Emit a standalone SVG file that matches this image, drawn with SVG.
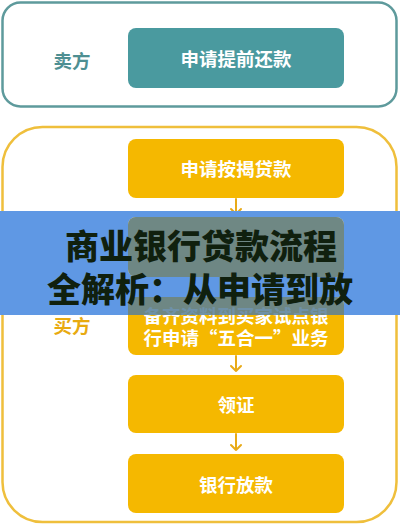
<svg xmlns="http://www.w3.org/2000/svg" width="400" height="526" viewBox="0 0 400 526">
<style>
.lbl{font-family:"Noto Sans CJK SC","Noto Sans",sans-serif;font-weight:700;font-size:18.5px;text-anchor:middle;dominant-baseline:central}
.nt{fill:#ffffff}
.yn{fill:#f5b800}
.arr{fill:none;stroke:#e8aa18;stroke-width:2;stroke-linecap:round;stroke-linejoin:round}
.ban{font-family:"Noto Sans CJK SC","Noto Sans",sans-serif;font-weight:900;font-size:34px;text-anchor:middle;dominant-baseline:central;fill:#10200e}
</style>
<defs>
<mask id="bm">
<rect x="0" y="0" width="400" height="526" fill="#fff"/>
<rect x="128" y="217" width="216" height="60" rx="8" fill="#000"/>
<rect x="128" y="297" width="216" height="58" rx="8" fill="#000"/>
</mask>
<clipPath id="bc"><rect x="0" y="211" width="400" height="104"/></clipPath>
</defs>
<rect width="400" height="526" fill="#ffffff"/>
<g id="seller-lane">
<rect x="2.5" y="2.5" width="394" height="104" rx="18" fill="none" stroke="#5e9a9c" stroke-width="2.5"/>
<text class="lbl" x="72" y="60" fill="#4e8f92">卖方</text>
</g>
<g id="buyer-lane">
<rect x="2.5" y="127" width="394" height="395" rx="40" fill="none" stroke="#efbf3c" stroke-width="2.5"/>
<text class="lbl" x="72" y="325" fill="#e8aa10">买方</text>
</g>
<g id="n-prepay">
<rect x="128" y="28" width="216" height="60" rx="8" fill="#4a9a9f"/>
<text class="lbl nt" x="236" y="58">申请提前还款</text>
</g>
<g id="n-apply">
<rect class="yn" x="128" y="139" width="216" height="59" rx="8"/>
<text class="lbl nt" x="236" y="168">申请按揭贷款</text>
</g>
<g id="n-step2">
<rect class="yn" x="128" y="217" width="216" height="60" rx="8"/>
</g>
<g id="n-docs">
<rect class="yn" x="128" y="297" width="216" height="58" rx="8"/>
<text class="lbl nt" x="236" y="315">备齐资料到买家试点银</text>
<text class="lbl nt" x="236" y="337">行申请“五合一”业务</text>
</g>
<g id="n-cert">
<rect class="yn" x="128" y="375" width="216" height="58" rx="8"/>
<text class="lbl nt" x="236" y="404">领证</text>
</g>
<g id="n-loan">
<rect class="yn" x="128" y="454" width="216" height="59" rx="8"/>
<text class="lbl nt" x="236" y="484">银行放款</text>
</g>
<g id="connectors">
<path class="arr" d="M236 199V214M231 209L236 214L241 209"/>
<path class="arr" d="M236 278V294M231 289L236 294L241 289"/>
<path class="arr" d="M236 356V371M231 366L236 371L241 366"/>
<path class="arr" d="M236 434V450M231 445L236 450L241 445"/>
</g>
<g id="banner">
<rect x="0" y="211" width="400" height="104" fill="#5f98e4" mask="url(#bm)"/>
<g clip-path="url(#bc)" fill="#58809a" opacity="0.86">
<rect x="128" y="217" width="216" height="60" rx="8"/>
<rect x="128" y="297" width="216" height="58" rx="8"/>
</g>
<text class="ban" x="201" y="244">商业银行贷款流程</text>
<text class="ban" x="200" y="287">全解析：从申请到放</text>
</g>
</svg>
